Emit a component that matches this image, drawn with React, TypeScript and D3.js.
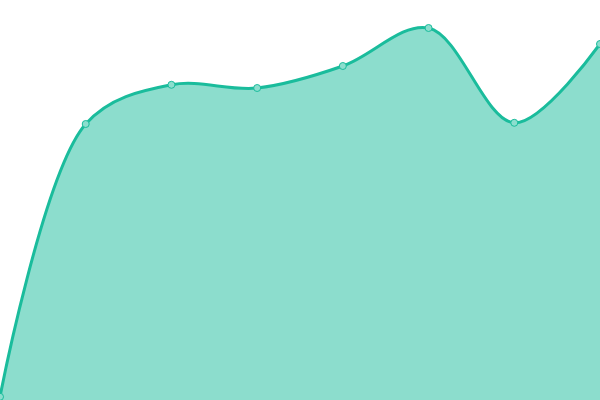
import React, { useEffect, useRef } from "react";
import * as d3 from "d3";

const labels = ["A", "B", "C", "D", "E", "F", "G", "H"];
const values = [0.8, 69, 78.8, 78, 83.5, 93, 69.3, 89];

const App: React.FC = () => {
  const svgRef = useRef<SVGSVGElement>(null);

  useEffect(() => {
    if (!svgRef.current) return;
    const svg = d3.select(svgRef.current);
    svg.selectAll("*").remove();

    const width = 600;
    const height = 400;

    const x = d3
      .scalePoint<string>()
      .domain(labels)
      .range([0, width]);

    const y = d3.scaleLinear().domain([0, 100]).range([height, 0]);

    const data = labels.map((l, i) => ({ label: l, value: values[i] }));

    const area = d3
      .area<{ label: string; value: number }>()
      .x((d) => x(d.label) || 0)
      .y0(height)
      .y1((d) => y(d.value))
      .curve(d3.curveCatmullRom);

    const line = d3
      .line<{ label: string; value: number }>()
      .x((d) => x(d.label) || 0)
      .y((d) => y(d.value))
      .curve(d3.curveCatmullRom);

    svg
      .append("path")
      .datum(data)
      .attr("d", area)
      .attr("fill", "#1abc9c")
      .attr("fill-opacity", 0.5);

    svg
      .append("path")
      .datum(data)
      .attr("d", line)
      .attr("fill", "none")
      .attr("stroke", "#1abc9c")
      .attr("stroke-width", 3);

    svg
      .selectAll("circle")
      .data(data)
      .enter()
      .append("circle")
      .attr("cx", (d) => x(d.label) || 0)
      .attr("cy", (d) => y(d.value))
      .attr("r", 3.5)
      .attr("fill", "#8cdece")
      .attr("stroke", "#1abc9c")
      .attr("stroke-width", 1);
  }, []);

  return (
    <svg
      ref={svgRef}
      width={600}
      height={400}
      style={{ position: "fixed", left: 0, top: 0, background: "#fff" }}
    ></svg>
  );
};

export default App;
